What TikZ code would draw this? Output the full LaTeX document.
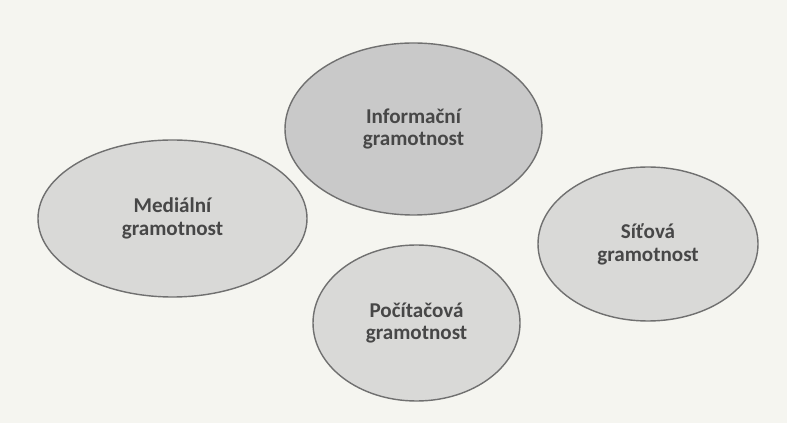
\documentclass[tikz,border=0pt]{standalone}
\usepackage{fontspec}
\setmainfont{Carlito}
\usepackage{xcolor}
\definecolor{paper}{HTML}{F5F5F0}
\definecolor{rimgray}{HTML}{707070}
\definecolor{darkfill}{HTML}{C9C9C9}
\definecolor{lightfill}{HTML}{D9D9D7}
\definecolor{inkgray}{HTML}{474747}
\usepackage{tikz}
\usetikzlibrary{shapes}

\tikzset{
  literacy/.style={ellipse, draw=rimgray, line width=0.8pt, fill=lightfill,
    inner sep=0pt, align=center, text=inkgray,
    font=\fontsize{12pt}{13pt}\selectfont\bfseries}
}

\begin{document}
\begin{tikzpicture}
  % Page (scanned paper tone)
  \fill[paper] (0,0) rectangle (15.74,8.46);

  % The four literacies
  \node[literacy, fill=darkfill, minimum width=5.14cm, minimum height=3.44cm] (info) at (8.27, 5.88) {Informační\\gramotnost};
  \node[literacy, minimum width=5.38cm, minimum height=3.14cm] (media) at (3.45, 4.09) {Mediální\\gramotnost};
  \node[literacy, minimum width=4.14cm, minimum height=3.12cm] (comp) at (8.33, 2.00) {Počítačová\\gramotnost};
  \node[literacy, minimum width=4.40cm, minimum height=3.08cm] (net) at (12.96, 3.58) {Síťová\\gramotnost};
\end{tikzpicture}
\end{document}
